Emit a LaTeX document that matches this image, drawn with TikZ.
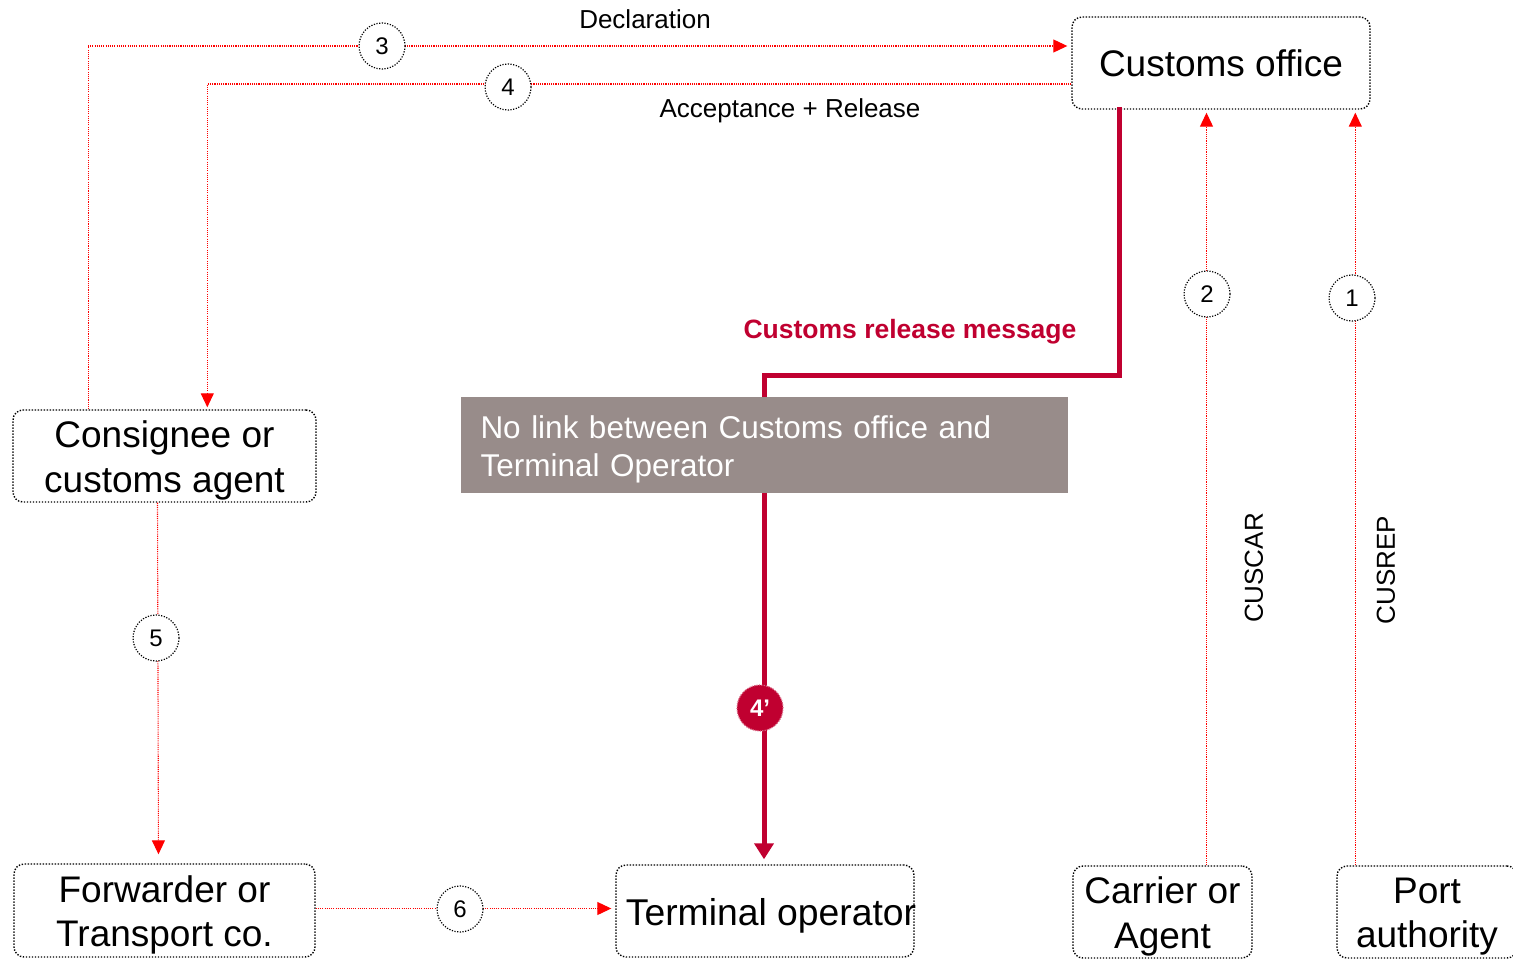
\documentclass[tikz,border=0pt]{standalone}
\usepackage{fontspec}
\setmainfont{Liberation Sans}
\usetikzlibrary{arrows.meta,calc}
\definecolor{crim}{RGB}{192,0,48}
\definecolor{flowred}{RGB}{255,0,0}
\definecolor{notegray}{RGB}{152,140,138}

\tikzset{
  party/.style={draw=black, line width=1.4pt, dash pattern=on 1.4pt off 1.6pt,
    rounded corners=10pt, align=center, inner sep=0pt,
    font=\fontsize{37}{44}\selectfont},
  partytext/.style={label={[align=center, inner sep=0pt, yshift=-4.5pt,
    font=\fontsize{37}{44.5}\selectfont]center:#1}},
  flow/.style={draw=flowred, line width=1.1pt, dash pattern=on 1.1pt off 1.1pt,
    -{Triangle[length=14pt,width=13pt]}},
  num/.style={circle, draw=black, line width=1.2pt, dash pattern=on 1.2pt off 1.5pt,
    fill=white, minimum size=46pt, inner sep=0pt, font=\fontsize{24}{28}\selectfont},
  crimline/.style={draw=crim, line width=5pt, line cap=rect,
    -{Triangle[length=16pt,width=19pt]}},
  lbl/.style={font=\fontsize{26}{30}\selectfont, inner sep=0pt},
}

\begin{document}
\begin{tikzpicture}[x=1pt,y=-1pt]
\useasboundingbox (0,0) rectangle (1513,960);

% parties
\node[party, minimum width=298pt, minimum height=92pt] (customs) at (1221,63) {Customs office};
\node[party, minimum width=303pt, minimum height=92pt,
  partytext={Consignee or\\customs agent}] (cons) at (164.5,456) {};
\node[party, minimum width=301pt, minimum height=93pt,
  partytext={Forwarder or\\Transport co.}] (fwd) at (164.5,910.5) {};
\node[party, minimum width=298pt, minimum height=92pt] (term) at (765,911) {};
\node[lbl, font=\fontsize{37.3}{44}\selectfont] (termtext) at (771,916) {Terminal operator};
\node[party, minimum width=179pt, minimum height=92pt,
  partytext={Carrier or\\Agent}] (carrier) at (1162.5,912) {};
\node[party, minimum width=180pt, minimum height=92pt,
  partytext={Port\\authority}] (port) at (1427,912) {};

% message flows
\draw[flow, shorten >=4pt] ($(cons.north west)+(76,0)$) |- ($(customs.west)+(0,-17)$);
\draw[flow, shorten >=2pt] ($(customs.west)+(0,21)$) -| ($(cons.north west)+(195,0)$);
\draw[flow, shorten >=9pt] ($(cons.south)+(-7,0)$) -- ($(fwd.north)+(-6,0)$);
\draw[flow, shorten >=4pt] ($(fwd.east)+(0,-2)$) coordinate (f6) -- (f6 -| term.west);
\draw[flow, shorten >=3pt] ($(carrier.north)+(44,0)$) coordinate (f2) -- (f2 |- customs.south);
\draw[flow, shorten >=3pt] ($(port.north west)+(19,0)$) coordinate (f1) -- (f1 |- customs.south);

% release message
\draw[crimline, shorten >=5pt] ($(customs.south west)+(48,0)$) -- ++(0,266) -| ($(term.north)+(-1,0)$);

% note over the release path
\node[fill=notegray, minimum width=607pt, minimum height=96pt, inner sep=0pt,
  label={[text width=568pt, align=left, inner sep=0pt, yshift=-4pt, text=white,
    font=\fontsize{31.5}{38}\selectfont]center:No link between Customs office and\\Terminal Operator}]
  (note) at (764.5,445) {};

% step numbers
\node[num] (n3) at (382,46) {3};
\node[num] (n4) at (508,87) {4};
\node[num] (n5) at (156,638) {5};
\node[num] (n6) at (460,909) {6};
\node[num] (n2) at (1207,294) {2};
\node[num] (n1) at (1352,298) {1};
\node[circle, fill=crim, draw=crim!60, line width=1.2pt, dash pattern=on 1.2pt off 1.2pt,
  minimum size=46pt, inner sep=0pt, text=white,
  font=\bfseries\fontsize{24}{28}\selectfont] (n4p) at (760,708) {4’};

% labels
\node[lbl] (ldecl) at (645,19) {Declaration};
\node[lbl] (lacc) at (790,111) {Acceptance + Release};
\node[lbl, text=crim, font=\bfseries\fontsize{26.5}{30}\selectfont] (lrel) at (910,332) {Customs release message};
\node[lbl, rotate=90] (lcuscar) at (1254,568) {CUSCAR};
\node[lbl, rotate=90] (lcusrep) at (1386,570) {CUSREP};
\end{tikzpicture}
\end{document}
